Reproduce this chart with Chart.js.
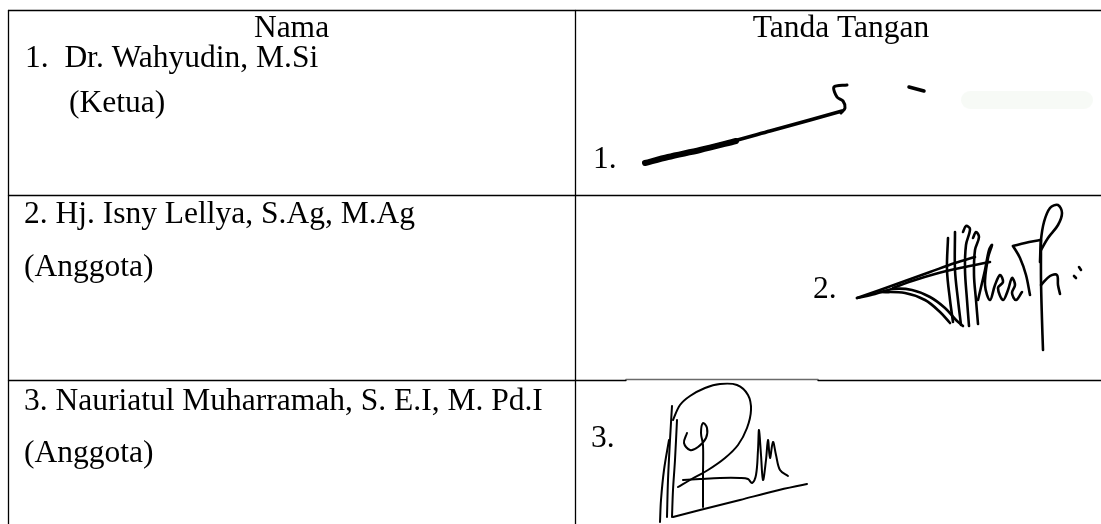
<!DOCTYPE html>
<html>
<head>
<meta charset="utf-8">
<script src="https://cdn.jsdelivr.net/npm/chart.js@4"></script>
<style>
  html, body { margin: 0; padding: 0; background: #ffffff; }
  canvas { display: block; }
</style>
</head>
<body>
<canvas id="c" width="1101" height="524"></canvas>
<script>
// ---- content ----
const headers = ['Nama', 'Tanda Tangan'];
const names = ['1.  Dr. Wahyudin, M.Si', '2. Hj. Isny Lellya, S.Ag, M.Ag', '3. Nauriatul Muharramah, S. E.I, M. Pd.I'];
const roles = ['(Ketua)', '(Anggota)', '(Anggota)'];
const signNumbers = ['1.', '2.', '3.'];

// ---- signature strokes (page units) ----
const sig1Strokes = [
  [[645,163],[668,157],[700,150],[736,141]],
  [[690,152],[730,142],[770,131],[810,120],[842,111]],
  [[847,85],[834,87],[837,97],[843,101],[845,108],[841,113]],
  [[909,87],[924,91]]
];
const sig1Widths = [6, 3.5, 3, 3.5];

const sig2Strokes = [
  [[857,298],[880,290],[905,281],[930,272],[955,263],[975,257]],
  [[857,298],[875,294],[893,289],[912,290],[930,297],[945,308],[956,320],[963,326]],
  [[893,288],[912,281],[935,274],[960,268],[990,262]],
  [[880,292],[905,293],[925,300],[940,312],[950,323]],
  [[948,238],[947,270],[950,300],[953,322]],
  [[955,232],[955,270],[958,300],[961,325]],
  [[963,232],[966,226],[970,229],[966,245],[965,270],[967,300],[969,326]],
  [[973,238],[976,232],[979,237],[975,250],[974,275],[976,300],[978,324]],
  [[978,300],[985,270],[989,250],[992,245],[988,258],[985,285],[990,300],[995,285],[1000,275],[1003,282],[998,288],[1003,300],[1008,290],[1012,278],[1015,285],[1012,293],[1016,300],[1022,292]],
  [[1013,246],[1025,243],[1040,240]],
  [[1013,246],[1020,258],[1026,275],[1030,295]],
  [[1040,262],[1041,240],[1044,222],[1050,208],[1058,205],[1062,213],[1058,225],[1048,238],[1041,250]],
  [[1041,240],[1041,280],[1042,320],[1043,350]],
  [[1041,285],[1050,276],[1057,275],[1058,285],[1060,294]],
  [[1074,276],[1076,278]],
  [[1079,267],[1081,270]]
];

const sig3Strokes = [
  [[673,420],[680,405],[690,396],[705,388],[720,384],[737,385],[748,395],[751,410],[747,428],[738,445],[725,458],[708,470],[690,480],[678,487]],
  [[672,406],[670,440],[668,480],[667,517]],
  [[669,440],[664,470],[661,500],[660,522]],
  [[677,420],[675,460],[673,490],[672,517]],
  [[687,433],[684,443],[690,450],[698,447],[706,438],[707,428],[703,423],[701,433],[703,445],[703,475],[703,507]],
  [[683,480],[700,479],[720,478],[740,478],[748,479],[752,483],[756,475],[758,450],[759,430],[761,455],[763,480],[766,460],[768,440],[770,458],[773,442],[776,455],[780,470],[788,476]],
  [[673,517],[700,510],[740,500],[775,491],[807,484]]
];

// ---- layout ----
const L = {
  W: 1101, H: 524,
  left: 8.5, colX: 575.5, right: 1101,
  top: 10.5, row1: 195.5, row2: 380.5,
  greyFrom: 626, greyTo: 818,
  font: '31.5px "Liberation Serif", "Times New Roman", serif',
  headerBaseline: 37, headerCenters: [291.5, 841],
  nameX: [25, 24, 24], nameBaseline: [67, 223, 410],
  roleX: [69, 24, 24], roleBaseline: [112, 276, 462],
  numX: [593, 813, 591], numBaseline: [168, 298, 447]
};

function seg(pts, color, width, tension) {
  return {
    data: pts.map(p => ({x: p[0], y: p[1]})),
    showLine: true, borderColor: color, backgroundColor: color,
    borderWidth: width, pointRadius: 0, pointHoverRadius: 0,
    tension: tension, fill: false, borderCapStyle: 'round', borderJoinStyle: 'round'
  };
}

const datasets = [];
// table rules
datasets.push(seg([[L.left, L.top], [L.right, L.top]], '#000', 1.3, 0));
datasets.push(seg([[L.left, L.top], [L.left, L.H]], '#000', 1.3, 0));
datasets.push(seg([[L.colX, L.top], [L.colX, L.H]], '#000', 1.3, 0));
datasets.push(seg([[L.left, L.row1], [L.right, L.row1]], '#000', 1.3, 0));
datasets.push(seg([[L.left, L.row2], [L.greyFrom, L.row2]], '#000', 1.3, 0));
datasets.push(seg([[L.greyTo, L.row2], [L.right, L.row2]], '#000', 1.3, 0));
datasets.push(seg([[L.greyFrom, L.row2 - 1], [L.greyTo, L.row2 - 1]], '#6a6a6a', 1.5, 0));
// faint smudge next to signature 1
datasets.push(seg([[970, 100], [1084, 100]], 'rgba(232,240,228,0.35)', 18, 0));
// signatures
sig1Strokes.forEach((s, i) => datasets.push(seg(s, '#000', sig1Widths[i], 0.3)));
sig2Strokes.forEach(s => datasets.push(seg(s, '#000', 2.6, 0.35)));
sig3Strokes.forEach(s => datasets.push(seg(s, '#000', 2, 0.35)));

const textPlugin = {
  id: 'tableText',
  afterDatasetsDraw(chart) {
    const {ctx, scales: {x, y}} = chart;
    ctx.save();
    ctx.font = L.font;
    ctx.fillStyle = '#000';
    ctx.textBaseline = 'alphabetic';
    ctx.textAlign = 'center';
    headers.forEach((h, i) => ctx.fillText(h, x.getPixelForValue(L.headerCenters[i]), y.getPixelForValue(L.headerBaseline)));
    ctx.textAlign = 'left';
    names.forEach((n, i) => ctx.fillText(n, x.getPixelForValue(L.nameX[i]), y.getPixelForValue(L.nameBaseline[i])));
    roles.forEach((r, i) => ctx.fillText(r, x.getPixelForValue(L.roleX[i]), y.getPixelForValue(L.roleBaseline[i])));
    signNumbers.forEach((s, i) => ctx.fillText(s, x.getPixelForValue(L.numX[i]), y.getPixelForValue(L.numBaseline[i])));
    ctx.restore();
  }
};

new Chart(document.getElementById('c'), {
  type: 'scatter',
  data: { datasets },
  options: {
    responsive: false,
    animation: false,
    events: [],
    layout: { padding: 0 },
    plugins: { legend: { display: false }, tooltip: { enabled: false }, title: { display: false } },
    scales: {
      x: { type: 'linear', min: 0, max: L.W, display: false },
      y: { type: 'linear', min: 0, max: L.H, reverse: true, display: false }
    }
  },
  plugins: [textPlugin]
});
</script>
</body>
</html>
